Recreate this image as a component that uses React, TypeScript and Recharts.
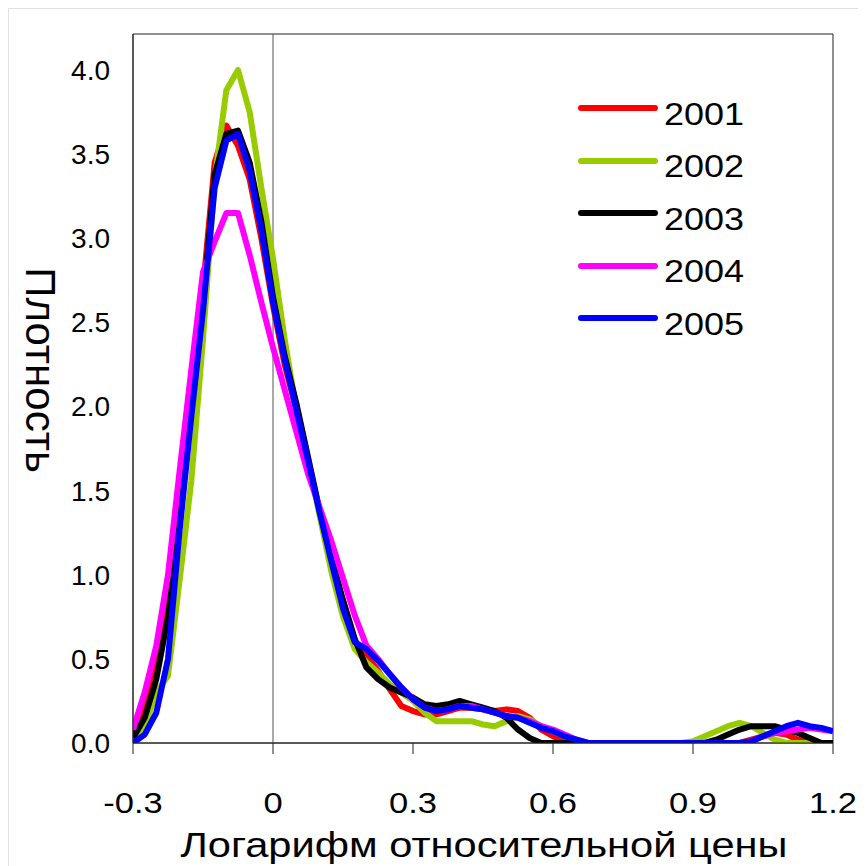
import React from "react";
import {
  LineChart,
  Line,
  XAxis,
  YAxis,
  ReferenceLine,
  ReferenceArea,
  Legend,
} from "recharts";

const FONT = "'Liberation Sans', Arial, sans-serif";
// the source picture's horizontal text is a little stretched
const STRETCH = 1.19;

// log relative price grid
const xs = [
  -0.3, -0.275, -0.25, -0.225, -0.2, -0.175, -0.15, -0.125, -0.1, -0.075,
  -0.05, -0.025, 0, 0.025, 0.05, 0.075, 0.1, 0.125, 0.15, 0.175,
  0.2, 0.225, 0.25, 0.275, 0.3, 0.325, 0.35, 0.375, 0.4, 0.425,
  0.45, 0.475, 0.5, 0.525, 0.55, 0.575, 0.6, 0.625, 0.65, 0.675,
  0.7, 0.725, 0.75, 0.775, 0.8, 0.825, 0.85, 0.875, 0.9, 0.925,
  0.95, 0.975, 1.0, 1.025, 1.05, 1.075, 1.1, 1.125, 1.15, 1.175, 1.2,
];

const y2001 = [
  0.03, 0.2, 0.45, 0.85, 1.4, 2.1, 2.7, 3.45, 3.67, 3.55,
  3.35, 3.0, 2.6, 2.25, 1.98, 1.68, 1.37, 1.08, 0.8, 0.6,
  0.52, 0.43, 0.32, 0.22, 0.19, 0.17, 0.17, 0.19, 0.21, 0.21,
  0.2, 0.19, 0.2, 0.19, 0.15, 0.08, 0.04, 0.01, 0, 0,
  0, 0, 0, 0, 0, 0, 0, 0, 0, 0,
  0, 0, 0, 0.02, 0.04, 0.06, 0.05, 0.02, 0, 0, 0,
];
const y2002 = [
  0.02, 0.1, 0.3, 0.4, 0.97, 1.56, 2.4, 3.35, 3.88, 4.0,
  3.75, 3.3, 2.88, 2.4, 1.98, 1.68, 1.35, 1.02, 0.75, 0.56,
  0.48, 0.42, 0.35, 0.3, 0.25, 0.18, 0.13, 0.13, 0.13, 0.13,
  0.11, 0.1, 0.13, 0.16, 0.14, 0.1, 0.07, 0.04, 0.02, 0,
  0, 0, 0, 0, 0, 0, 0, 0, 0.01, 0.04,
  0.07, 0.1, 0.12, 0.1, 0.06, 0.02, 0, 0, 0, 0, 0,
];
const y2003 = [
  0.03, 0.15, 0.38, 0.75, 1.3, 2.0, 2.6, 3.38, 3.62, 3.64,
  3.45, 3.1, 2.65, 2.3, 2.02, 1.7, 1.38, 1.1, 0.85, 0.62,
  0.45, 0.38, 0.33, 0.3, 0.27, 0.23, 0.22, 0.23, 0.25, 0.23,
  0.21, 0.19, 0.15, 0.08, 0.03, 0, 0, 0, 0, 0,
  0, 0, 0, 0, 0, 0, 0, 0, 0, 0,
  0.02, 0.05, 0.08, 0.1, 0.1, 0.1, 0.08, 0.06, 0.03, 0, 0,
];
const y2004 = [
  0.08, 0.3, 0.58, 1.0, 1.62, 2.22, 2.8, 2.98, 3.15, 3.15,
  2.9, 2.62, 2.35, 2.1, 1.85, 1.6, 1.4, 1.2, 0.98, 0.76,
  0.58, 0.5, 0.41, 0.33, 0.26, 0.21, 0.19, 0.2, 0.22, 0.22,
  0.2, 0.18, 0.16, 0.15, 0.13, 0.1, 0.08, 0.05, 0.02, 0,
  0, 0, 0, 0, 0, 0, 0, 0, 0, 0,
  0, 0, 0, 0.01, 0.04, 0.06, 0.07, 0.08, 0.09, 0.08, 0.07,
];
const y2005 = [
  0, 0.05, 0.18, 0.5, 1.27, 1.94, 2.57, 3.3, 3.58, 3.62,
  3.4, 3.05, 2.62, 2.28, 1.98, 1.68, 1.37, 1.08, 0.8, 0.6,
  0.56, 0.49, 0.41, 0.33, 0.26, 0.21, 0.19, 0.2, 0.22, 0.21,
  0.2, 0.18, 0.16, 0.15, 0.12, 0.09, 0.07, 0.04, 0.02, 0,
  0, 0, 0, 0, 0, 0, 0, 0, 0, 0,
  0, 0, 0, 0.01, 0.04, 0.07, 0.1, 0.12, 0.1, 0.09, 0.07,
];

const xTicks = [-0.3, 0, 0.3, 0.6, 0.9, 1.2];
const yTicks = [0, 0.5, 1, 1.5, 2, 2.5, 3, 3.5, 4];

const series = [
  { key: "y2001", label: "2001", color: "#ff0000", values: y2001 },
  { key: "y2002", label: "2002", color: "#99cc00", values: y2002 },
  { key: "y2003", label: "2003", color: "#000000", values: y2003 },
  { key: "y2004", label: "2004", color: "#ff00ff", values: y2004 },
  { key: "y2005", label: "2005", color: "#0000ff", values: y2005 },
];

const data = xs.map((x, i) => {
  const row: Record<string, number> = { x };
  series.forEach((s) => (row[s.key] = s.values[i]));
  return row;
});

const Y_MAX = 4.214;

const XTick = ({ x, y, payload }: any) => (
  <text
    transform={`translate(${x},${y}) scale(${STRETCH},1)`}
    textAnchor="middle"
    dy="0.71em"
    fontFamily={FONT}
    fontSize={29}
    fill="#000"
  >
    {payload.value === 0 ? "0" : Number(payload.value).toFixed(1)}
  </text>
);

const XTitle = () => (
  <text
    transform={`translate(475,848) scale(${STRETCH},1)`}
    textAnchor="middle"
    fontFamily={FONT}
    fontSize={35}
    fill="#000"
  >
    Логарифм относительной цены
  </text>
);

const YTitle = () => (
  <text
    x={31}
    y={361}
    transform="rotate(90 31 361)"
    textAnchor="middle"
    dominantBaseline="central"
    fontFamily={FONT}
    fontSize={42}
    fill="#000"
  >
    Плотность
  </text>
);

const ChartLegend = () => (
  <div style={{ fontFamily: FONT }}>
    {series.map((s) => (
      <div
        key={s.key}
        style={{ display: "flex", alignItems: "center", height: 52.5 }}
      >
        <div
          style={{
            width: 80,
            height: 6,
            borderRadius: 3,
            background: s.color,
            flexShrink: 0,
          }}
        />
        <span
          style={{
            display: "inline-block",
            marginLeft: 6,
            marginTop: 12,
            fontSize: 31,
            color: "#000",
            lineHeight: 1,
            transform: "scaleX(1.16)",
            transformOrigin: "left center",
          }}
        >
          {s.label}
        </span>
      </div>
    ))}
  </div>
);

export default function App() {
  return (
    <div
      style={{
        position: "relative",
        width: 858,
        height: 858,
        borderTop: "1px solid #e2e2e2",
        borderLeft: "1px solid #e2e2e2",
        boxSizing: "border-box",
        background: "#fff",
      }}
    >
      <LineChart
        width={857}
        height={857}
        data={data}
        margin={{ top: 25, right: 33, left: 0, bottom: 0 }}
      >
        <XAxis
          dataKey="x"
          type="number"
          domain={[-0.3, 1.2]}
          ticks={xTicks}
          allowDataOverflow
          tick={<XTick />}
          tickSize={11}
          tickMargin={38}
          tickLine={{ stroke: "#222" }}
          axisLine={{ stroke: "#222" }}
          height={123}
          label={<XTitle />}
        />
        <YAxis
          type="number"
          domain={[0, Y_MAX]}
          ticks={yTicks}
          allowDataOverflow
          tickFormatter={(v: number) => v.toFixed(1)}
          tick={{ fontSize: 28, fill: "#000", fontFamily: FONT }}
          tickSize={0}
          tickMargin={23}
          tickLine={false}
          axisLine={{ stroke: "#222" }}
          width={124}
          label={<YTitle />}
        />
        <ReferenceArea
          x1={-0.3}
          x2={1.2}
          y1={0}
          y2={Y_MAX}
          fill="none"
          stroke="#222"
          strokeWidth={1}
        />
        <ReferenceLine x={0} stroke="#555" strokeWidth={1} />
        {series.map((s) => (
          <Line
            key={s.key}
            type="linear"
            dataKey={s.key}
            name={s.label}
            stroke={s.color}
            strokeWidth={6}
            strokeLinejoin="round"
            dot={false}
            activeDot={false}
            isAnimationActive={false}
          />
        ))}
        <Legend
          layout="vertical"
          align="center"
          verticalAlign="middle"
          content={<ChartLegend />}
          wrapperStyle={{ left: 569, top: 73, width: 220 }}
        />
      </LineChart>
    </div>
  );
}
